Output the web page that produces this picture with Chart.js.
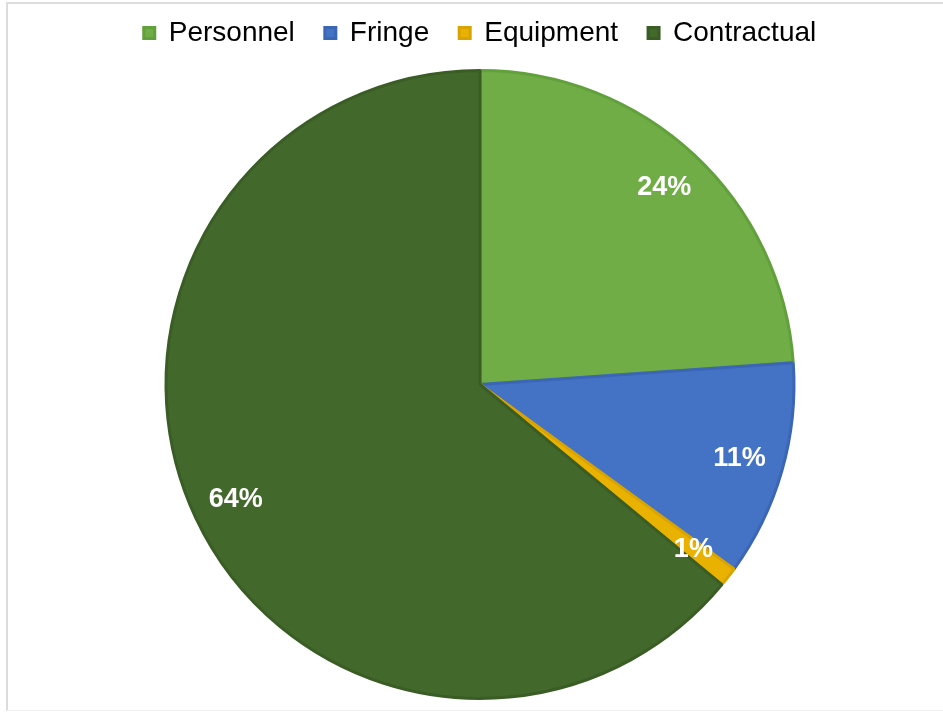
<!DOCTYPE html>
<html>
<head>
<meta charset="utf-8">
<script src="https://cdn.jsdelivr.net/npm/chart.js@4.4.1/dist/chart.umd.min.js"></script>
<style>
  html, body { margin: 0; padding: 0; background: #fff; }
  #wrap { position: relative; width: 943px; height: 713px; }
  #frame { position: absolute; left: 6px; top: 2px; right: -2px; bottom: 2px;
           border-left: 2px solid #dcdcdc; border-top: 2px solid #dcdcdc; border-bottom: 1px solid #f0f0f0; }
  canvas { position: absolute; left: 0; top: 0; }
</style>
</head>
<body>
<div id="wrap">
  <div id="frame"></div>
  <canvas id="budgetPie" width="943" height="713"></canvas>
</div>
<script>
// datos del gráfico
const categories = ['Personnel', 'Fringe', 'Equipment', 'Contractual'];
const shares = [23.9, 11.1, 1.0, 64.0];
const shareLabels = ['24%', '11%', '1%', '64%'];
const fillColors = ['#70AD47', '#4472C4', '#EAB200', '#43682B'];
const edgeColors = ['#62A03C', '#3B66B5', '#D9A400', '#3A5C25'];

// etiquetas blancas dentro de cada porción
const sliceLabels = {
    id: 'sliceLabels',
    afterDatasetsDraw(chart) {
        const ctx = chart.ctx;
        const meta = chart.getDatasetMeta(0);
        ctx.save();
        ctx.fillStyle = '#ffffff';
        ctx.font = 'bold 27px "Liberation Sans", Arial, sans-serif';
        ctx.textAlign = 'center';
        ctx.textBaseline = 'middle';
        meta.data.forEach(function (arc, i) {
            const mid = (arc.startAngle + arc.endAngle) / 2;
            const r = arc.outerRadius * 0.86;
            ctx.fillText(shareLabels[i], arc.x + Math.cos(mid) * r, arc.y + Math.sin(mid) * r);
        });
        ctx.restore();
    }
};

// más espacio debajo de la leyenda
const legendGap = {
    id: 'legendGap',
    beforeInit(chart) {
        const origFit = chart.legend.fit;
        chart.legend.fit = function () {
            origFit.bind(chart.legend)();
            this.height += 12;
        };
    }
};

const ctx1 = document.getElementById('budgetPie').getContext('2d');
const budgetPie = new Chart(ctx1, {
    type: 'pie',
    data: {
        labels: categories,
        datasets: [{
            data: shares,
            backgroundColor: fillColors,
            borderColor: edgeColors,
            borderWidth: 3
        }]
    },
    options: {
        responsive: false,
        animation: false,
        layout: {
            padding: { top: -11, left: 17, right: 0, bottom: 13 }
        },
        plugins: {
            tooltip: { enabled: false },
            legend: {
                position: 'top',
                labels: {
                    boxWidth: 11,
                    boxHeight: 11,
                    padding: 30,
                    color: '#000000',
                    font: { family: '"Liberation Sans", Arial, sans-serif', size: 28 }
                }
            }
        }
    },
    plugins: [sliceLabels, legendGap]
});
</script>
</body>
</html>
